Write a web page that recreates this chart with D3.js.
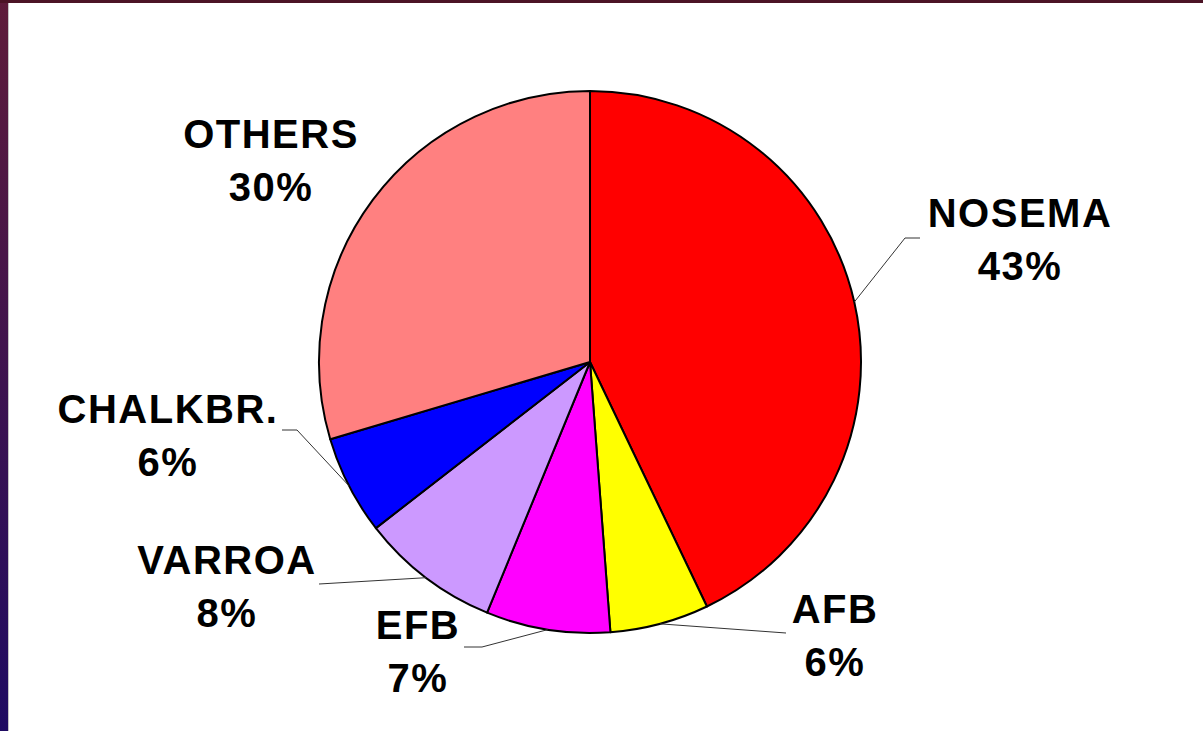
<!DOCTYPE html>
<html>
<head>
<meta charset="utf-8">
<script src="https://cdn.jsdelivr.net/npm/d3@7"></script>
<style>
  html, body { margin: 0; padding: 0; background: #fff; }
  svg { display: block; }
</style>
</head>
<body>
<svg id="chart" width="1203" height="731"></svg>
<script>
// slice data, clockwise from 12 o'clock
const categories = ["NOSEMA", "AFB", "EFB", "VARROA", "CHALKBR.", "OTHERS"];
const values = [42.9, 5.9, 7.4, 8.3, 5.9, 29.6];
const percentLabels = ["43%", "6%", "7%", "8%", "6%", "30%"];
const colors = ["#ff0000", "#ffff00", "#ff00ff", "#cc99ff", "#0000ff", "#ff8080"];

const WIDTH = 1203, HEIGHT = 731;
const cx = 590, cy = 362, R = 271;

// label placement: text centre, baseline of first line, leader line bend points
const labelPos = [
  { x: 1020, y: 227, bend: [[905, 238], [920, 238]] },
  { x: 835, y: 623, bend: [[786, 633]] },
  { x: 418, y: 639, bend: [[482, 647], [464, 647]] },
  { x: 227, y: 574, bend: [[319, 584]] },
  { x: 168, y: 423, bend: [[297, 430], [282, 430]] },
  { x: 271, y: 148, bend: [] }
];

const svg = d3.select("#chart");

// frame: gradient strip on the left, dark bar along the top
const defs = svg.append("defs");
const grad = defs.append("linearGradient")
  .attr("id", "leftbar").attr("x1", 0).attr("y1", 0).attr("x2", 0).attr("y2", 1);
grad.append("stop").attr("offset", "0%").attr("stop-color", "#5e1c3a");
grad.append("stop").attr("offset", "100%").attr("stop-color", "#1f0b62");

svg.append("rect").attr("x", 0).attr("y", 0).attr("width", 8).attr("height", HEIGHT)
  .attr("fill", "url(#leftbar)");
svg.append("rect").attr("x", 8).attr("y", 3).attr("width", 1).attr("height", HEIGHT)
  .attr("fill", "#c4c4c4");
svg.append("rect").attr("x", 0).attr("y", 0).attr("width", WIDTH).attr("height", 3)
  .attr("fill", "#4c1426");

const pie = d3.pie().sort(null).value(d => d)(values);
const arc = d3.arc().innerRadius(0).outerRadius(R);

const g = svg.append("g").attr("transform", `translate(${cx},${cy})`);

g.selectAll("path.slice")
  .data(pie)
  .join("path")
  .attr("class", "slice")
  .attr("d", arc)
  .attr("fill", (d, i) => colors[i])
  .attr("stroke", "#000")
  .attr("stroke-width", 2)
  .attr("stroke-linejoin", "round");

// leader lines start on the rim at each slice's mid angle
const lines = svg.append("g");
pie.forEach((d, i) => {
  const lp = labelPos[i];
  if (!lp.bend.length) return;
  const a = (d.startAngle + d.endAngle) / 2;
  const start = [cx + R * Math.sin(a), cy - R * Math.cos(a)];
  lines.append("path")
    .attr("d", d3.line()([start, ...lp.bend]))
    .attr("fill", "none")
    .attr("stroke", "#333")
    .attr("stroke-width", 1);
});

// labels
const labels = svg.append("g")
  .attr("font-family", "'Liberation Sans', Arial, sans-serif")
  .attr("font-weight", "bold")
  .attr("font-size", 40)
  .attr("letter-spacing", 1.5)
  .attr("text-anchor", "middle")
  .attr("fill", "#000");

categories.forEach((c, i) => {
  const lp = labelPos[i];
  const t = labels.append("text").attr("x", lp.x).attr("y", lp.y);
  t.append("tspan").attr("x", lp.x).text(c);
  t.append("tspan").attr("x", lp.x).attr("dy", 53).text(percentLabels[i]);
});
</script>
</body>
</html>
